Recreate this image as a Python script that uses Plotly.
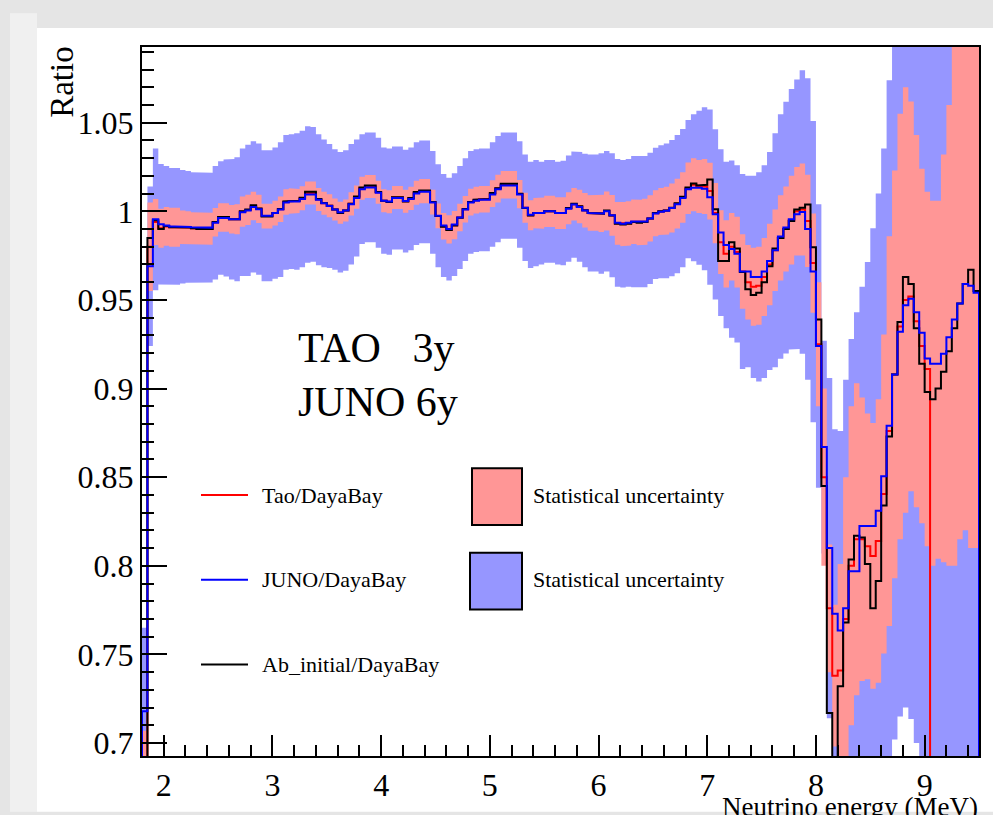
import plotly.graph_objects as go

# Binning of the ratio histograms (MeV)
E_MIN = 1.80
BIN_W = 0.05

# Ab_initial / DayaBay ratio per bin
ab_initial_ratio = [
    0.660, 0.985, 0.995, 0.990, 0.9917, 0.991, 0.991, 0.991, 0.9908, 0.9905,
    0.990, 0.990, 0.990, 0.994, 0.9968, 0.9968, 0.9955, 0.9955, 1.000, 1.001,
    1.0034, 1.0016, 0.9971, 0.9971, 0.999, 1.0013, 1.0056, 1.006, 1.006, 1.0077,
    1.011, 1.011, 1.0069, 1.0047, 1.0032, 1.001, 0.999, 1.0005, 1.0043, 1.0084,
    1.0135, 1.0146, 1.0146, 1.0109, 1.006, 1.0053, 1.008, 1.008, 1.0056, 1.0075,
    1.0109, 1.0118, 1.0118, 1.0053, 0.9973, 0.9913, 0.9895, 0.992, 0.9964, 1.0013,
    1.0053, 1.0066, 1.007, 1.007, 1.0103, 1.013, 1.0155, 1.0155, 1.0155, 1.0099,
    1.0019, 0.9976, 0.999, 0.999, 1.000, 1.000, 0.999, 0.999, 1.0019, 1.0043,
    1.0028, 1.0006, 0.999, 0.999, 0.9987, 1.0004, 0.9976, 0.993, 0.9925, 0.993,
    0.994, 0.9935, 0.994, 0.996, 0.999, 1.000, 1.0005, 1.002, 1.0046, 1.0082,
    1.0135, 1.0157, 1.0146, 1.015, 1.018, 1.0011, 0.972, 0.972, 0.9826, 0.979,
    0.9657, 0.956, 0.9528, 0.954, 0.960, 0.969, 0.979, 0.985, 0.990, 0.9946,
    1.001, 1.002, 1.0039, 0.9797, 0.939, 0.845, 0.717, 0.680, 0.732, 0.768,
    0.8036, 0.817, 0.816, 0.801, 0.776, 0.7915, 0.834, 0.873, 0.908, 0.9376,
    0.963, 0.959, 0.934, 0.914, 0.898, 0.894, 0.900, 0.9095, 0.921, 0.934,
    0.948, 0.959, 0.967, 0.955,
]

# Tao / DayaBay ratio per bin (empty above 9.05 MeV)
tao_ratio = [
    0.692, 0.980, 0.994, 0.9905, 0.9915, 0.991, 0.991, 0.991, 0.9908, 0.9905,
    0.9902, 0.9902, 0.9902, 0.9938, 0.9965, 0.9965, 0.9955, 0.9955, 0.9998, 1.0008,
    1.003, 1.0014, 0.9973, 0.9973, 0.999, 1.0012, 1.0053, 1.0058, 1.0058, 1.0074,
    1.0103, 1.0103, 1.0067, 1.0046, 1.0031, 1.001, 0.9992, 1.0005, 1.0042, 1.008,
    1.013, 1.014, 1.014, 1.0107, 1.006, 1.0054, 1.0078, 1.0078, 1.0057, 1.0073,
    1.0105, 1.0114, 1.0114, 1.0052, 0.9974, 0.9916, 0.9898, 0.9922, 0.9965, 1.0012,
    1.0052, 1.0063, 1.0068, 1.0068, 1.010, 1.0128, 1.015, 1.015, 1.015, 1.0097,
    1.002, 0.9978, 0.999, 0.999, 1.000, 1.000, 0.999, 0.999, 1.0017, 1.004,
    1.0027, 1.0006, 0.999, 0.999, 0.9988, 1.0002, 0.9977, 0.9932, 0.9928, 0.9932,
    0.9941, 0.9937, 0.9941, 0.996, 0.9989, 0.9999, 1.0004, 1.0019, 1.0043, 1.0078,
    1.013, 1.015, 1.014, 1.014, 1.0114, 0.999, 0.9826, 0.976, 0.980, 0.977,
    0.966, 0.960, 0.9575, 0.958, 0.963, 0.970, 0.978, 0.985, 0.990, 0.995,
    1.000, 1.001, 0.9946, 0.9708, 0.925, 0.850, 0.776, 0.738, 0.741, 0.770,
    0.800, 0.815, 0.815, 0.811, 0.8056, 0.814, 0.8405, 0.876, 0.908, 0.935,
    0.950, 0.952, 0.938, 0.924, 0.911, 0.0, 0.0, 0.0, 0.0, 0.0,
    0.0, 0.0, 0.0, 0.0,
]

# JUNO / DayaBay ratio per bin
juno_ratio = [
    0.718, 0.969, 0.9955, 0.9927, 0.992, 0.9915, 0.9915, 0.9913, 0.9912, 0.991,
    0.9908, 0.9908, 0.9908, 0.9935, 0.9962, 0.9962, 0.9955, 0.9955, 0.9995, 1.0005,
    1.0025, 1.0012, 0.9975, 0.9975, 0.999, 1.001, 1.005, 1.0055, 1.0055, 1.007,
    1.0095, 1.0095, 1.0065, 1.0045, 1.003, 1.001, 0.9995, 1.0005, 1.004, 1.0075,
    1.0125, 1.0135, 1.0135, 1.0105, 1.006, 1.0055, 1.0075, 1.0075, 1.0058, 1.007,
    1.010, 1.011, 1.011, 1.005, 0.9975, 0.992, 0.990, 0.9925, 0.9965, 1.001,
    1.005, 1.006, 1.0065, 1.0065, 1.0095, 1.0125, 1.0145, 1.0145, 1.0145, 1.0095,
    1.002, 0.998, 0.999, 0.999, 1.000, 1.000, 0.999, 0.999, 1.0015, 1.0038,
    1.0025, 1.0005, 0.999, 0.999, 0.9988, 1.000, 0.9978, 0.9935, 0.993, 0.9935,
    0.9942, 0.994, 0.9942, 0.996, 0.9988, 0.9998, 1.0003, 1.0018, 1.004, 1.0075,
    1.0125, 1.0133, 1.0133, 1.0127, 1.008, 0.9983, 0.988, 0.981, 0.9787, 0.976,
    0.966, 0.966, 0.963, 0.963, 0.966, 0.972, 0.978, 0.9858, 0.9908, 0.9955,
    0.9983, 0.9996, 0.990, 0.966, 0.924, 0.867, 0.810, 0.773, 0.7635, 0.776,
    0.797, 0.797, 0.8224, 0.8224, 0.8224, 0.831, 0.8505, 0.879, 0.908, 0.932,
    0.947, 0.9506, 0.943, 0.9315, 0.917, 0.914, 0.914, 0.9197, 0.929, 0.939,
    0.948, 0.959, 0.958, 0.954,
]

# Statistical uncertainty of the Tao ratio (half width), bins up to 9.05 MeV
tao_err = [
    0.015, 0.025, 0.013, 0.011, 0.011, 0.011, 0.011, 0.0095, 0.0092, 0.009,
    0.009, 0.009, 0.009, 0.008, 0.008, 0.008, 0.008, 0.0085, 0.0085, 0.0085,
    0.008, 0.008, 0.007, 0.007, 0.007, 0.0072, 0.0072, 0.0072, 0.0068, 0.0068,
    0.0065, 0.0065, 0.0065, 0.0065, 0.0065, 0.0062, 0.0062, 0.0062, 0.0065, 0.0065,
    0.0065, 0.0065, 0.0065, 0.0065, 0.0065, 0.0065, 0.0065, 0.0065, 0.0065, 0.0065,
    0.0068, 0.0068, 0.0068, 0.007, 0.007, 0.0075, 0.008, 0.008, 0.0078, 0.0075,
    0.0075, 0.0075, 0.0075, 0.0075, 0.0075, 0.0078, 0.0078, 0.0078, 0.0078, 0.008,
    0.0085, 0.0085, 0.0085, 0.0088, 0.0088, 0.0088, 0.009, 0.009, 0.009, 0.0092,
    0.0095, 0.0098, 0.010, 0.010, 0.0105, 0.011, 0.0115, 0.012, 0.0125, 0.0125,
    0.0125, 0.0128, 0.013, 0.013, 0.013, 0.0132, 0.0135, 0.0138, 0.014, 0.0142,
    0.0145, 0.015, 0.015, 0.0155, 0.016, 0.017, 0.018, 0.019, 0.019, 0.020,
    0.021, 0.021, 0.022, 0.022, 0.022, 0.023, 0.023, 0.024, 0.024, 0.025,
    0.025, 0.026, 0.026, 0.028, 0.035, 0.050, 0.036, 0.040, 0.060, 0.080,
    0.090, 0.088, 0.080, 0.075, 0.075, 0.080, 0.090, 0.110, 0.115, 0.120,
    0.120, 0.110, 0.105, 0.100, 0.100,
]
# Tao uncertainty band above 9.05 MeV: centre and half width
tao_tail_mid = [0.903, 0.905, 0.917, 0.930, 0.960, 0.970, 0.970, 0.965, 0.965]
tao_tail_err = [0.103, 0.101, 0.115, 0.130, 0.160, 0.155, 0.150, 0.155, 0.155]

# Statistical uncertainty of the JUNO ratio (half width)
juno_err = [
    0.047, 0.045, 0.040, 0.034, 0.0335, 0.033, 0.033, 0.032, 0.0315, 0.031,
    0.031, 0.031, 0.031, 0.032, 0.032, 0.033, 0.034, 0.035, 0.036, 0.037,
    0.037, 0.037, 0.037, 0.037, 0.037, 0.038, 0.038, 0.038, 0.0385, 0.0385,
    0.0385, 0.038, 0.037, 0.036, 0.035, 0.034, 0.034, 0.034, 0.034, 0.033,
    0.031, 0.031, 0.031, 0.031, 0.030, 0.030, 0.029, 0.029, 0.029, 0.029,
    0.029, 0.029, 0.029, 0.029, 0.029, 0.029, 0.029, 0.029, 0.029, 0.029,
    0.029, 0.029, 0.029, 0.029, 0.0295, 0.030, 0.030, 0.030, 0.030, 0.030,
    0.030, 0.030, 0.030, 0.029, 0.029, 0.029, 0.029, 0.0295, 0.030, 0.030,
    0.031, 0.032, 0.033, 0.033, 0.034, 0.034, 0.035, 0.036, 0.036, 0.036,
    0.037, 0.037, 0.037, 0.037, 0.037, 0.0375, 0.038, 0.0385, 0.039, 0.039,
    0.039, 0.0415, 0.0435, 0.046, 0.0495, 0.048, 0.047, 0.047, 0.050, 0.050,
    0.055, 0.054, 0.057, 0.059, 0.060, 0.0615, 0.066, 0.069, 0.071, 0.0735,
    0.076, 0.080, 0.085, 0.085, 0.080, 0.060, 0.096, 0.104, 0.1125, 0.129,
    0.131, 0.146, 0.135, 0.149, 0.168, 0.179, 0.185, 0.195, 0.206, 0.217,
    0.227, 0.237, 0.243, 0.250, 0.260, 0.270, 0.275, 0.280, 0.285, 0.290,
    0.295, 0.300, 0.300, 0.300,
]

X_TICKS = [2, 3, 4, 5, 6, 7, 8, 9]
Y_TICKS = [0.7, 0.75, 0.8, 0.85, 0.9, 0.95, 1.0, 1.05]
Y_TICK_TEXT = ["0.7", "0.75", "0.8", "0.85", "0.9", "0.95", "1", "1.05"]

N_BINS = len(ab_initial_ratio)
assert len(tao_ratio) == N_BINS and len(juno_ratio) == N_BINS and len(juno_err) == N_BINS
assert len(tao_err) + len(tao_tail_err) == N_BINS
edges = [round(E_MIN + BIN_W * i, 4) for i in range(N_BINS + 1)]

SERIF = "Liberation Serif, Times New Roman, serif"
RED, BLUE, BLACK = "#ff0000", "#0000ff", "#000000"
RED_FILL, BLUE_FILL = "rgb(255,150,150)", "rgb(150,150,255)"


def hist_path(values):
    """Outline of a histogram drawn ROOT style, starting and ending at zero."""
    xs, ys = [edges[0]], [0.0]
    for i, v in enumerate(values):
        xs += [edges[i], edges[i + 1]]
        ys += [v, v]
    xs.append(edges[-1])
    ys.append(0.0)
    return xs, ys


def band_path(mid, half):
    """Closed outline of the per-bin error rectangles (E2 style)."""
    hi = [m + h for m, h in zip(mid, half)]
    lo = [m - h for m, h in zip(mid, half)]
    xs, ys = [], []
    for i, h in enumerate(hi):
        xs += [edges[i], edges[i + 1]]
        ys += [h, h]
    for i in reversed(range(len(lo))):
        xs += [edges[i + 1], edges[i]]
        ys += [lo[i], lo[i]]
    xs.append(xs[0])
    ys.append(ys[0])
    return xs, ys


fig = go.Figure()

# uncertainty bands
bx, by = band_path(juno_ratio, juno_err)
fig.add_trace(go.Scatter(x=bx, y=by, mode="lines", fill="toself", fillcolor=BLUE_FILL,
                         line=dict(width=0), hoverinfo="skip", showlegend=False))
tao_mid = tao_ratio[:len(tao_err)] + tao_tail_mid
tao_half = tao_err + tao_tail_err
bx, by = band_path(tao_mid, tao_half)
fig.add_trace(go.Scatter(x=bx, y=by, mode="lines", fill="toself", fillcolor=RED_FILL,
                         line=dict(width=0), hoverinfo="skip", showlegend=False))

# ratio histograms
for vals, col, name in [(tao_ratio, RED, "Tao/DayaBay"),
                        (ab_initial_ratio, BLACK, "Ab_initial/DayaBay"),
                        (juno_ratio, BLUE, "JUNO/DayaBay")]:
    hx, hy = hist_path(vals)
    fig.add_trace(go.Scatter(x=hx, y=hy, mode="lines", name=name,
                             line=dict(color=col, width=2), hoverinfo="skip",
                             showlegend=False))

# frame geometry in pixels (plot area)
L, R, T, B = 142, 979, 47, 759
W, H = 993, 815


def px(x):
    return (x - L) / (R - L)


def py(y):
    return (B - y) / (B - T)


shapes = [
    # page background panels
    dict(type="rect", xref="paper", yref="paper", x0=px(10), x1=px(37), y0=py(815), y1=py(13),
         fillcolor="#f0f0f0", line=dict(width=0), layer="below"),
    dict(type="rect", xref="paper", yref="paper", x0=px(37), x1=px(993), y0=py(815), y1=py(28),
         fillcolor="white", line=dict(width=0), layer="below"),
]
annotations = []

# legend: line samples
for ypix, col, label in [(497, RED, "Tao/DayaBay"), (582, BLUE, "JUNO/DayaBay"),
                         (667, BLACK, "Ab_initial/DayaBay")]:
    shapes.append(dict(type="line", xref="paper", yref="paper", x0=px(201), x1=px(248),
                       y0=py(ypix), y1=py(ypix), line=dict(color=col, width=2)))
    annotations.append(dict(xref="paper", yref="paper", x=px(260), y=py(ypix), text=label,
                            showarrow=False, xanchor="left", yanchor="middle",
                            font=dict(family=SERIF, size=22, color="black")))

# legend: uncertainty boxes
for (x0, x1, y0, y1), fillc, ypix in [((472, 522, 470, 527), RED_FILL, 497),
                                      ((470, 522, 555, 612), BLUE_FILL, 582)]:
    shapes.append(dict(type="rect", xref="paper", yref="paper", x0=px(x0), x1=px(x1),
                       y0=py(y1), y1=py(y0), fillcolor=fillc, line=dict(color="black", width=2)))
    annotations.append(dict(xref="paper", yref="paper", x=px(531), y=py(ypix),
                            text="Statistical uncertainty", showarrow=False,
                            xanchor="left", yanchor="middle",
                            font=dict(family=SERIF, size=22, color="black")))

# exposure labels
annotations.append(dict(xref="paper", yref="paper", x=px(296), y=py(349),
                        text="TAO\u00a0\u00a0\u00a03y", showarrow=False, xanchor="left",
                        yanchor="middle", font=dict(family=SERIF, size=42, color="black")))
annotations.append(dict(xref="paper", yref="paper", x=px(296), y=py(404),
                        text="JUNO 6y", showarrow=False, xanchor="left",
                        yanchor="middle", font=dict(family=SERIF, size=42, color="black")))

# axis titles (ROOT places them at the axis ends)
annotations.append(dict(xref="paper", yref="paper", x=px(62), y=py(82), text="Ratio",
                        textangle=-90, showarrow=False, xanchor="center", yanchor="middle",
                        font=dict(family=SERIF, size=33, color="black")))
annotations.append(dict(xref="paper", yref="paper", x=px(980), y=py(793),
                        text="Neutrino energy (MeV)", showarrow=False, xanchor="right",
                        yanchor="top", font=dict(family=SERIF, size=27, color="black")))

fig.update_layout(
    width=W, height=H,
    margin=dict(l=L, r=W - R, t=T, b=H - B, pad=0),
    paper_bgcolor="#e5e5e5",
    plot_bgcolor="white",
    shapes=shapes,
    annotations=annotations,
    showlegend=False,
    xaxis=dict(
        range=[edges[0], edges[-1]],
        tickvals=X_TICKS, ticktext=[str(v) for v in X_TICKS],
        ticks="inside", ticklen=21, tickwidth=2, tickcolor="black",
        minor=dict(tick0=2.0, dtick=0.2, ticks="inside", ticklen=11, tickwidth=2,
                   tickcolor="black"),
        showline=True, linecolor="black", linewidth=2, mirror=True,
        showgrid=False, zeroline=False,
        tickfont=dict(family=SERIF, size=32, color="black"),
    ),
    yaxis=dict(
        range=[0.6927, 1.0927],
        tickvals=Y_TICKS, ticktext=Y_TICK_TEXT,
        ticks="inside", ticklen=25, tickwidth=2, tickcolor="black",
        minor=dict(tick0=0.7, dtick=0.01, ticks="inside", ticklen=12, tickwidth=2,
                   tickcolor="black"),
        showline=True, linecolor="black", linewidth=2, mirror=True,
        showgrid=False, zeroline=False,
        tickfont=dict(family=SERIF, size=32, color="black"),
    ),
)

fig.write_html("out.html")
